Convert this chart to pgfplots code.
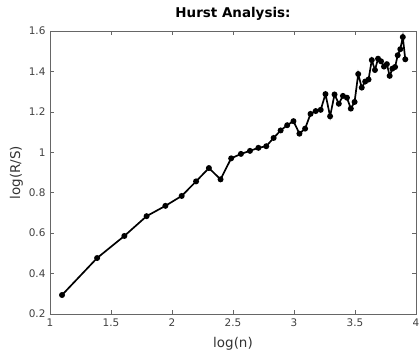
\documentclass[border=0pt]{standalone}
\usepackage{fontspec}
\setmainfont{DejaVu Sans}
\usepackage{pgfplots}
\pgfplotsset{compat=1.18}
\begin{document}
\begin{tikzpicture}
\begin{axis}[
  scale only axis,
  width=366bp, height=283bp,
  xmin=1, xmax=4, ymin=0.2, ymax=1.6,
  xtick={1,1.5,...,4}, ytick={0.2,0.4,...,1.6},
  tick align=inside,
  major tick length=4bp,
  axis line style={draw=black!60},
  tick style={draw=black!60, line width=0.5pt},
  /pgf/number format/assume math mode=true,
  ticklabel style={font=\fontsize{10.5}{12}\selectfont, text=black!75},
  xticklabel style={yshift=-1bp},
  yticklabel style={xshift=-1bp},
  title={Hurst Analysis:},
  title style={font=\fontsize{13.5}{15}\selectfont\bfseries, at={(0.5,1)}, anchor=south, yshift=1bp},
  xlabel={log(n)},
  ylabel={log(R/S)},
  label style={font=\fontsize{13.5}{15}\selectfont, text=black!80},
  xlabel style={yshift=-4bp},
  ylabel style={yshift=-1bp},
]
\addplot[black, line width=1.7pt, mark=*, mark size=2.1pt] coordinates {
(1.0986,0.294) (1.3863,0.477) (1.6094,0.586) (1.7918,0.684) (1.9459,0.735)
(2.0794,0.784) (2.1972,0.856) (2.3026,0.922) (2.3979,0.866) (2.4849,0.970)
(2.5649,0.992) (2.6391,1.007) (2.7081,1.022) (2.7726,1.030) (2.8332,1.071)
(2.8904,1.108) (2.9444,1.134) (2.9957,1.154) (3.0445,1.092) (3.0910,1.117)
(3.1355,1.190) (3.1781,1.204) (3.2189,1.210) (3.2581,1.288) (3.2958,1.178)
(3.3322,1.286) (3.3673,1.240) (3.4012,1.279) (3.4340,1.270) (3.4657,1.216)
(3.4965,1.249) (3.5264,1.387) (3.5553,1.320) (3.5835,1.350) (3.6109,1.360)
(3.6376,1.456) (3.6636,1.407) (3.6889,1.463) (3.7136,1.450) (3.7377,1.424)
(3.7612,1.436) (3.7842,1.378) (3.8067,1.414) (3.8286,1.422) (3.8501,1.480)
(3.8712,1.510) (3.8918,1.570) (3.9120,1.460)
};
\coordinate (bl) at (rel axis cs:0,0);
\coordinate (tr) at (rel axis cs:1,1);
\end{axis}
\pgfresetboundingbox
\path (bl) ++(-50bp,-42bp) coordinate (p1);
\path (tr) ++(4bp,31bp) coordinate (p2);
\useasboundingbox (p1) rectangle (p2);
\end{tikzpicture}
\end{document}
